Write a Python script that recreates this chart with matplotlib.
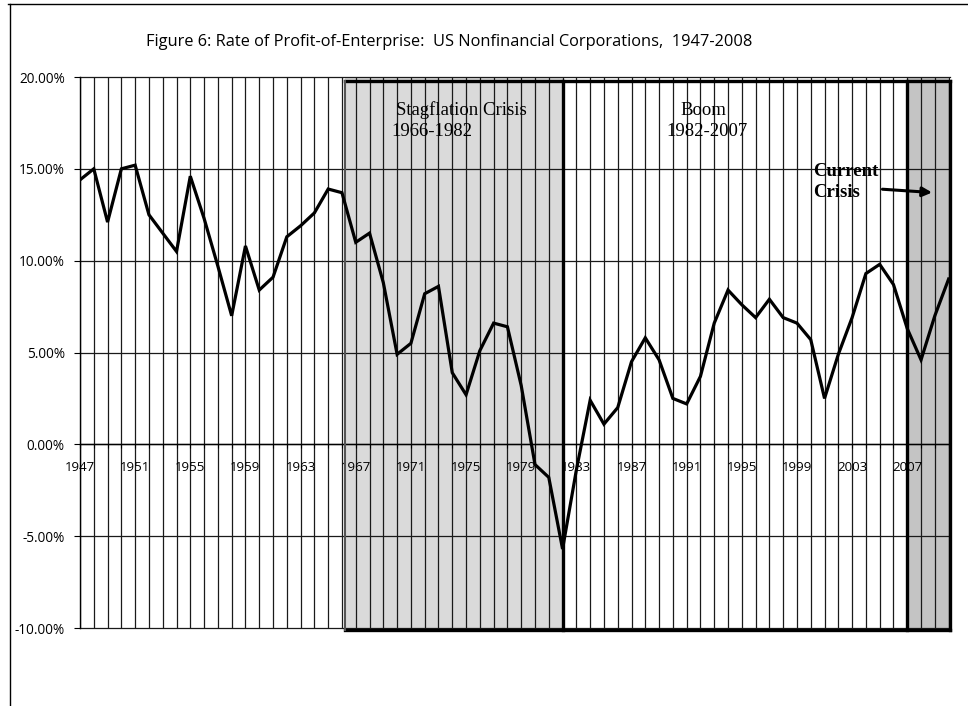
import matplotlib
matplotlib.use("Agg")
import matplotlib.pyplot as plt
from matplotlib.lines import Line2D

# rate of profit-of-enterprise, %
years = list(range(1947, 2011))
rate = [14.4, 15.0, 12.1, 15.0, 15.2, 12.5, 11.5, 10.5, 14.6, 12.3,
        9.7, 7.0, 10.8, 8.4, 9.1, 11.3, 11.9, 12.6, 13.9, 13.7,
        11.0, 11.5, 8.8, 4.9, 5.5, 8.2, 8.6, 3.9, 2.7, 5.1,
        6.6, 6.4, 3.2, -1.1, -1.8, -5.7, -1.4, 2.4, 1.1, 2.0,
        4.5, 5.8, 4.6, 2.5, 2.2, 3.7, 6.6, 8.4, 7.6, 6.9,
        7.9, 6.9, 6.6, 5.7, 2.5, 4.9, 6.9, 9.3, 9.8, 8.7,
        6.3, 4.6, 7.0, 9.0]
year_labels = list(range(1947, 2008, 4))
y_ticks = [-10, -5, 0, 5, 10, 15, 20]

# periods marked on the chart
stag = (1966.2, 1982)
boom = (1982, 2007)
crisis = (2007, 2010.1)

sans = ["Open Sans", "DejaVu Sans"]
serif = ["Liberation Serif", "DejaVu Serif"]

fig = plt.figure(figsize=(9.68, 7.06), dpi=100)
ax = fig.add_axes([80 / 968, 78 / 706, 870 / 968, 551 / 706])

ax.set_xlim(1947, 2010.1)
ax.set_ylim(-10, 20)

# shaded periods
ax.axvspan(*stag, color="#dadada", zorder=0.5, lw=0)
ax.axvspan(*crisis, color="#c4c4c4", zorder=0.5, lw=0)

# yearly vertical grid and 5% horizontal grid
for yr in years:
    ax.axvline(yr, color="#1a1a1a", lw=0.9, zorder=1)
for v in y_ticks:
    ax.axhline(v, color="#1a1a1a", lw=0.9, zorder=1, clip_on=False)

# boxes round the periods
box_top, box_bot = 19.8, -10.1
ax.plot([stag[0], crisis[1]], [box_top, box_top], color="black", lw=2.4, zorder=4, clip_on=False)
ax.plot([stag[0], crisis[1]], [box_bot, box_bot], color="black", lw=2.4, zorder=4, clip_on=False)
ax.plot([stag[0], stag[0]], [box_bot, box_top], color="#555555", lw=1.5, zorder=4, clip_on=False)
for xv in (boom[0], boom[1], crisis[1]):
    ax.plot([xv, xv], [box_bot, box_top], color="black", lw=2.4, zorder=4, clip_on=False)

ax.plot(years, rate, color="black", lw=2.3, zorder=5, solid_joinstyle="miter")

# axes
for side in ("top", "right"):
    ax.spines[side].set_visible(False)
ax.spines["bottom"].set_position(("data", 0))
ax.spines["bottom"].set_linewidth(1.0)
ax.spines["left"].set_linewidth(1.0)

ax.set_xticks(years, minor=True)
ax.set_xticks(year_labels)
ax.set_xticklabels([str(y) for y in year_labels], family=sans, fontsize=9.5)
ax.tick_params(axis="x", which="both", direction="out", length=3, width=0.8, pad=9)
ax.set_yticks(y_ticks)
ax.set_yticklabels([f"{v:.2f}%" for v in y_ticks], family=sans, fontsize=9.8)
ax.tick_params(axis="y", direction="out", length=4, width=0.8, pad=7)

# period labels
ax.text(1969.9, 18.2, "Stagflation Crisis", family=serif, fontsize=13.5, ha="left", va="center")
ax.text(1969.6, 17.05, "1966-1982", family=serif, fontsize=13.5, ha="left", va="center")
ax.text(1992.2, 18.2, "Boom", family=serif, fontsize=13.5, ha="center", va="center")
ax.text(1992.5, 17.05, "1982-2007", family=serif, fontsize=13.5, ha="center", va="center")
ax.text(2000.2, 14.85, "Current", family=serif, fontsize=13.5, weight="bold", ha="left", va="center")
ax.text(2000.2, 13.7, "Crisis", family=serif, fontsize=13.5, weight="bold", ha="left", va="center")
ax.annotate("", xy=(2009.0, 13.7), xytext=(2005.0, 13.9),
            arrowprops=dict(arrowstyle="-|>", color="black", lw=2.2, mutation_scale=14))

fig.text(449 / 968, 1 - 42 / 706,
         "Figure 6: Rate of Profit-of-Enterprise:  US Nonfinancial Corporations,  1947-2008",
         family=sans, fontsize=11.8, ha="center", va="center")

# page frame (top and left edges of the scanned box)
fig.add_artist(Line2D([8 / 968, 1.0], [1 - 4 / 706, 1 - 4 / 706], color="black", lw=1.0))
fig.add_artist(Line2D([10 / 968, 10 / 968], [0.0, 1 - 4 / 706], color="black", lw=1.0))

fig.savefig("out.png", dpi=100)
